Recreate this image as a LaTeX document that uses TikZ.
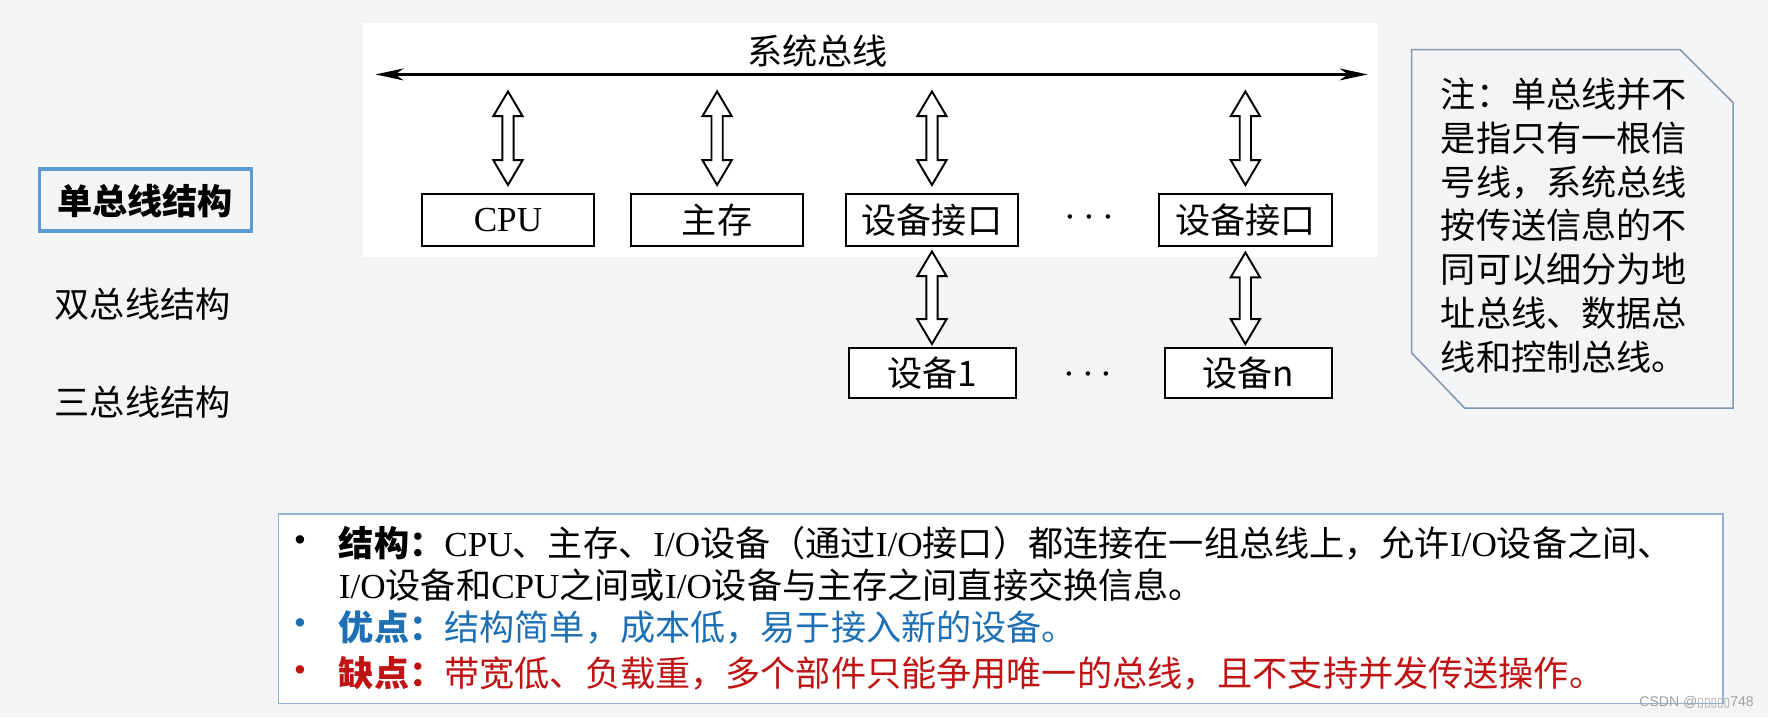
\documentclass[tikz,border=0pt]{standalone}
\usepackage{fontspec}
\setmainfont{Liberation Serif}
\newfontfamily\cjk{Noto Sans CJK SC}
\newfontfamily\tnr{Liberation Serif}
\newfontfamily\lsans{Liberation Sans}
\newfontfamily\wmfont{DejaVu Sans}
\usetikzlibrary{calc,arrows.meta}
\newlength\pix
\setlength\pix{0.3208pt}
\definecolor{bgcol}{RGB}{243,244,246}
\definecolor{tabblue}{RGB}{91,155,213}
\definecolor{noteedge}{RGB}{132,151,176}
\definecolor{boxedge}{RGB}{150,175,215}
\definecolor{problue}{RGB}{31,111,181}
\definecolor{conred}{RGB}{192,20,20}
\def\hollowarrow(#1)(#2){\draw[line width=0.55pt,fill=white,line join=miter] (#1) -- ++(13,22) -- ++(-8,0) -- ($(#2)+(5,-22)$) -- ++(8,0) -- (#2) -- ++(-13,-22) -- ++(8,0) -- ($(#1)+(-5,22)$) -- ++(-8,0) -- cycle;}

\begin{document}
\begin{tikzpicture}[x=\pix,y=-\pix,
		unitbox/.style={draw,line width=0.6pt,fill=white,minimum width=49.08pt,minimum height=14.76pt,inner sep=0pt,font=\cjk\fontsize{10}{12}\selectfont},
		devbox/.style={unitbox,minimum width=47.48pt,minimum height=14.12pt},
		cjktext/.style={inner sep=0pt,font=\cjk\fontsize{10}{12}\selectfont},
		textline/.style={cjktext,anchor=west},
		dotrow/.style={inner sep=0pt,font=\fontsize{12}{14}\selectfont},
		bulletmark/.style={inner sep=0pt,font=\tnr\fontsize{10}{12}\selectfont}]
	\fill[bgcol] (0,0) rectangle (1568,636);
	\useasboundingbox (0,0) rectangle (1568,636);
	\fill[white] (322,20) rectangle (1222,228);
	
	\coordinate (busL) at (333,66);
	\coordinate (busR) at (1213,66);
	\draw[line width=0.7pt,{Stealth[length=8pt,width=3.4pt,inset=2.4pt]}-{Stealth[length=8pt,width=3.4pt,inset=2.4pt]}] (busL) -- (busR);
	\node[cjktext] (buslabel) at (725,45) {系统总线};
	
	\node[unitbox] (cpu) at (450.5,195) {\tnr CPU};
	\node[unitbox] (mem) at (636,195) {主存};
	\node[unitbox] (ifa) at (826.5,195) {设备接口};
	\node[unitbox] (ifb) at (1104.5,195) {设备接口};
	\node[dotrow] (dotsa) at (966,193) {$\cdots$};
	
	\node[devbox] (deva) at (827,331) {设备1};
	\node[devbox] (devb) at (1107,331) {设备n};
	\node[dotrow] (dotsb) at (965,333) {$\cdots$};
	
	\foreach \n in {cpu,mem,ifa,ifb}{
		\coordinate (\n-t) at ($(\n.north)+(0,-90)$);
		\coordinate (\n-b) at ($(\n.north)+(0,-7)$);
		\hollowarrow(\n-t)(\n-b)
	}
	\coordinate (ifa-s) at ($(ifa.south)+(0,4)$);
	\coordinate (deva-n) at ($(ifa.south |- deva.north)+(0,-3)$);
	\hollowarrow(ifa-s)(deva-n)
	\coordinate (ifb-s) at ($(ifb.south)+(0,5)$);
	\coordinate (devb-n) at ($(ifb.south |- devb.north)+(0,-3)$);
	\hollowarrow(ifb-s)(devb-n)
	
	\draw[tabblue,line width=1pt] (35,150) rectangle (223,205);
	\node[cjktext,anchor=west] (single) at (50,178) {\bfseries 单总线结构};
	\node[cjktext,anchor=west] (double) at (48,270) {双总线结构};
	\node[cjktext,anchor=west] (triple) at (48,357) {三总线结构};
	
	\draw[noteedge,line width=0.45pt] (1252,44) -- (1490,44) -- (1537,91) -- (1537,362) -- (1299,362) -- (1252,313) -- cycle;
	\node[cjktext,align=left,font=\cjk\fontsize{10}{12.45}\selectfont] (note) at (1387,200) {注：单总线并不\\是指只有一根信\\号线，系统总线\\按传送信息的不\\同可以细分为地\\址总线、数据总\\线和控制总线。};
	
	\draw[boxedge,fill=white,line width=0.45pt] (247,456) rectangle (1528,624);
	\node[bulletmark] at (266,482) {•};
	\node[textline] (struct) at (300,482) {{\bfseries 结构：}{\tnr CPU}、主存、{\tnr I/O}设备（通过{\tnr I/O}接口）都连接在一组总线上，允许{\tnr I/O}设备之间、};
	\node[textline] (structb) at (300,519) {{\tnr I/O}设备和{\tnr CPU}之间或{\tnr I/O}设备与主存之间直接交换信息。};
	\node[bulletmark,text=problue] at (266,556) {•};
	\node[textline,text=problue] (pro) at (300,556) {{\bfseries 优点：}结构简单，成本低，易于接入新的设备。};
	\node[bulletmark,text=conred] at (266,597) {•};
	\node[textline,text=conred] (con) at (300,597) {{\bfseries 缺点：}带宽低、负载重，多个部件只能争用唯一的总线，且不支持并发传送操作。};
	
	\node[inner sep=0pt,anchor=east,font=\lsans\fontsize{4}{5}\selectfont,text=gray!75] (mark) at (1556,623) {CSDN @{\wmfont\fontsize{3.4}{5}\selectfont ▯▯▯▯▯}748};
\end{tikzpicture}
\end{document}
